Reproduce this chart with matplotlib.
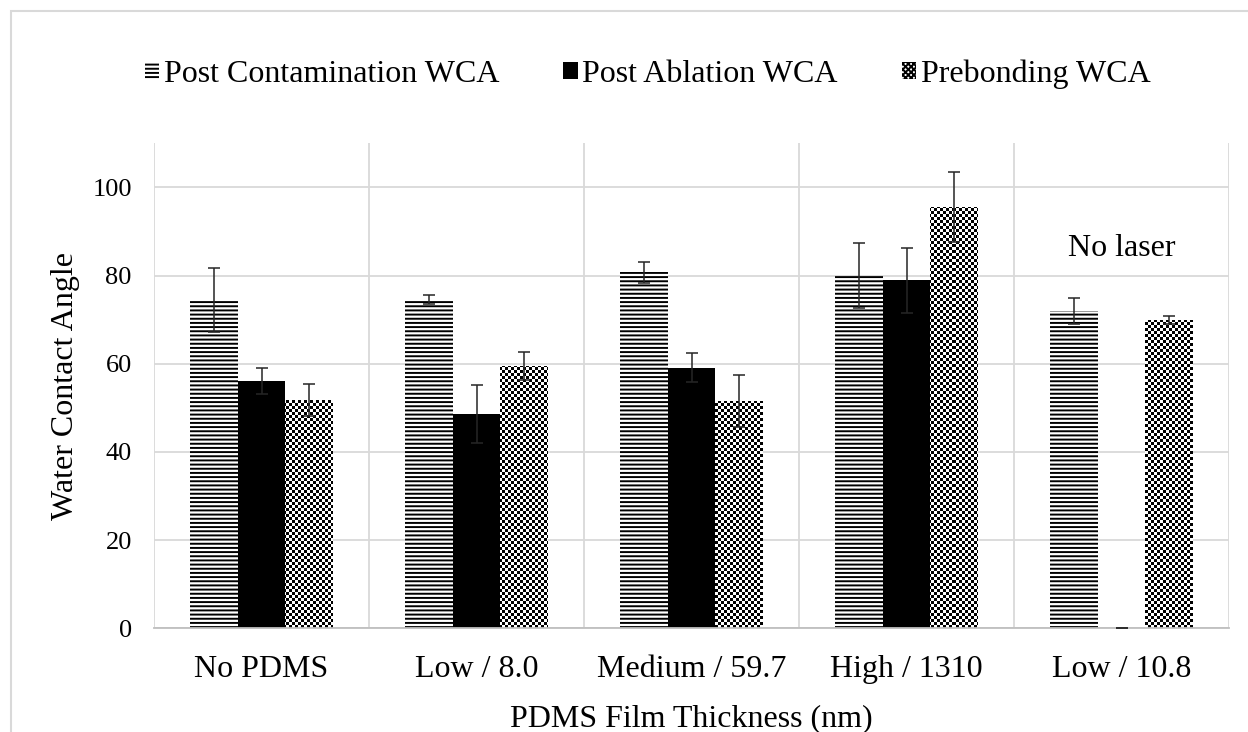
import numpy as np
import matplotlib.pyplot as plt
from matplotlib.patches import Patch, Rectangle

categories = ['No PDMS', 'Low / 8.0', 'Medium / 59.7', 'High / 1310', 'Low / 10.8']
series = ['Post Contamination WCA', 'Post Ablation WCA', 'Prebonding WCA']

contamination = [74.4, 74.6, 80.7, 80.0, 71.9]
contamination_err = [7.2, 1.0, 2.4, 7.3, 3.0]
ablation = [56.1, 48.6, 59.1, 78.9, 0.0]
ablation_err = [2.9, 6.6, 3.3, 7.4, 0.0]
prebonding = [51.8, 59.4, 51.5, 95.5, 70.0]
prebonding_err = [3.7, 3.2, 5.9, 7.9, 0.9]

plt.rcParams['font.family'] = ['Liberation Serif', 'DejaVu Serif']
plt.rcParams['hatch.linewidth'] = 1.4

fig = plt.figure(figsize=(12.48, 7.32), dpi=100)
ax = fig.add_axes([0.1234, 0.1417, 0.8614, 0.6626])

x = np.arange(len(categories))
w = 0.222

ax.bar(x - w, contamination, w, color='white', edgecolor='black',
       linewidth=0, hatch='----', zorder=2)
ax.bar(x, ablation, w, color='black', linewidth=0, zorder=2)
pre_bars = ax.bar(x + w, prebonding, w, color='white', linewidth=0, zorder=2)

# checkerboard fill for prebonding bars, 3 px squares clipped to each bar
pos = ax.get_position()
ncols = int(round(pos.width * fig.get_figwidth() * fig.dpi / 3))
nrows = int(round(pos.height * fig.get_figheight() * fig.dpi / 3))
checker = (np.indices((nrows, ncols)).sum(axis=0) % 2).astype(float)
for bar in pre_bars:
    im = ax.imshow(checker, cmap='gray', extent=(0, 1, 0, 1), transform=ax.transAxes,
                   interpolation='nearest', aspect='auto', zorder=2.5)
    im.set_clip_path(bar)

for off, vals, errs in [(-w, contamination, contamination_err),
                        (0, ablation, ablation_err),
                        (w, prebonding, prebonding_err)]:
    ax.errorbar(x + off, vals, yerr=errs, fmt='none', ecolor='#262626',
                elinewidth=1.1, capsize=4.5, capthick=1.1, zorder=3)

ax.set_xlim(-0.5, len(categories) - 0.5)
ax.set_ylim(0, 110)
ax.set_yticks(np.arange(0, 101, 20))
ax.set_xticks(x, categories)
ax.set_xticks(np.arange(-0.5, len(categories)), minor=True)
ax.yaxis.grid(True, color='#d9d9d9', linewidth=1.3)
ax.xaxis.grid(True, which='minor', color='#d9d9d9', linewidth=1.3)
ax.set_axisbelow(True)
ax.tick_params(which='both', length=0)
ax.tick_params(axis='y', labelsize=19, pad=16)
ax.tick_params(axis='x', labelsize=23, pad=19)
for side in ['top', 'right', 'left']:
    ax.spines[side].set_visible(False)
ax.spines['bottom'].set_color('#bfbfbf')
ax.spines['bottom'].set_linewidth(1.3)

ax.set_xlabel('PDMS Film Thickness (nm)', fontsize=23, labelpad=15)
ax.set_ylabel('Water Contact Angle', fontsize=23, labelpad=9)

ax.text(4, 84.4, 'No laser', ha='center', va='baseline', fontsize=23)

handles = [Patch(facecolor='white', edgecolor='black', linewidth=0, hatch='----'),
           Patch(facecolor='black', linewidth=0),
           Patch(facecolor='white', edgecolor='black', linewidth=0, hatch='xxxxxx')]
fig.legend(handles, series, loc='center', bbox_to_anchor=(0.519, 0.899), ncol=3,
           frameon=False, fontsize=23, handlelength=0.45, handleheight=0.45,
           handletextpad=0.15, columnspacing=2.0)

fig.add_artist(Rectangle((11 / 1248, -0.1), 1.2, 1.1 - 11 / 732, transform=fig.transFigure,
                         fill=False, edgecolor='#d9d9d9', linewidth=1.5))

plt.savefig('out.png', dpi=100)
